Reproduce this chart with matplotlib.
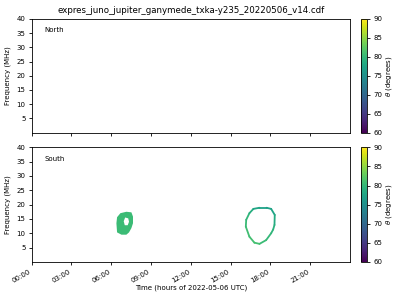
import datetime
import numpy as np
import matplotlib
matplotlib.use("Agg")
import matplotlib.pyplot as plt
import matplotlib.dates as mdates
from matplotlib.collections import LineCollection
from matplotlib.path import Path
from matplotlib.patches import PathPatch

# blob near 07:00 (South), outline in hours / MHz, with a small hole
blob_t = [7.14, 7.52, 7.64, 7.64, 7.52, 7.34, 7.14, 6.77, 6.44, 6.39, 6.44, 6.69]
blob_f = [17.5, 17.3, 15.8, 13.5, 11.8, 10.3, 9.5, 9.5, 10.3, 13.5, 15.6, 17.0]
blob_theta = 80.5
hole_t = [7.05, 7.28, 7.34, 7.24, 7.02, 6.94]
hole_f = [15.5, 15.2, 14.0, 12.8, 12.8, 14.2]

# ring near 17:00 (South)
ring_t = [17.17, 17.70, 18.05, 18.32, 18.30, 18.20, 18.05, 17.67, 17.17, 16.79, 16.41, 16.14, 16.17, 16.41, 16.71, 17.17]
ring_f = [18.9, 18.9, 18.5, 16.4, 12.9, 11.3, 10.0, 7.6, 6.3, 6.7, 8.8, 12.3, 14.7, 17.0, 18.5, 18.9]
ring_theta = [77.0, 77.0, 77.5, 78.3, 79.0, 79.5, 80.0, 80.5, 81.0, 81.0, 80.8, 80.3, 79.8, 78.8, 77.6, 77.0]

plt.rcParams['font.size'] = 5

day = mdates.date2num(datetime.datetime(2022, 5, 6))
cmap = plt.get_cmap('viridis')
norm = matplotlib.colors.Normalize(60, 90)

fig = plt.figure(figsize=(4, 3), dpi=100)
ax1 = fig.add_axes([0.079, 0.558, 0.796, 0.379])
ax2 = fig.add_axes([0.079, 0.127, 0.796, 0.382])
cax1 = fig.add_axes([0.9025, 0.558, 0.016, 0.379])
cax2 = fig.add_axes([0.9025, 0.127, 0.016, 0.382])

# filled blob with hole
bt = day + np.array(blob_t) / 24
ht = day + np.array(hole_t) / 24
verts = list(zip(bt, blob_f)) + [(bt[0], blob_f[0])] + list(zip(ht[::-1], hole_f[::-1])) + [(ht[-1], hole_f[-1])]
codes = [Path.MOVETO] + [Path.LINETO] * (len(bt) - 1) + [Path.CLOSEPOLY] + \
        [Path.MOVETO] + [Path.LINETO] * (len(ht) - 1) + [Path.CLOSEPOLY]
ax2.add_patch(PathPatch(Path(verts, codes), facecolor=cmap(norm(blob_theta)), edgecolor='none'))

# ring, coloured by theta
rt = day + np.array(ring_t) / 24
pts = np.column_stack([rt, ring_f]).reshape(-1, 1, 2)
segs = np.concatenate([pts[:-1], pts[1:]], axis=1)
lc = LineCollection(segs, cmap=cmap, norm=norm, linewidths=1.3, capstyle='round')
lc.set_array(np.array(ring_theta[:-1]))
ax2.add_collection(lc)

for ax, name in [(ax1, 'North'), (ax2, 'South')]:
    ax.set_xlim(day, day + 23.99 / 24)
    ax.set_ylim(0, 40)
    ax.set_yticks([5, 10, 15, 20, 25, 30, 35, 40])
    ax.xaxis.set_major_locator(mdates.HourLocator(byhour=range(0, 24, 3)))
    ax.xaxis.set_major_formatter(mdates.DateFormatter('%H:%M'))
    ax.set_ylabel('Frequency (MHz)')
    ax.text(0.04, 0.9, name, transform=ax.transAxes, va='center')
    ax.tick_params(length=2.5, width=0.6, pad=2)
    for s in ax.spines.values():
        s.set_linewidth(0.6)

ax1.tick_params(labelbottom=False)
for lab in ax2.get_xticklabels():
    lab.set_rotation(30)
    lab.set_ha('right')
ax2.set_xlabel('Time (hours of 2022-05-06 UTC)', labelpad=1)
ax1.set_title('expres_juno_jupiter_ganymede_txka-y235_20220506_v14.cdf', fontsize=6.2, pad=4)

for cax in [cax1, cax2]:
    cb = fig.colorbar(matplotlib.cm.ScalarMappable(norm=norm, cmap=cmap), cax=cax)
    cb.set_ticks([60, 65, 70, 75, 80, 85, 90])
    cb.set_label(r'$\theta$ (degrees)', labelpad=1)
    cb.ax.tick_params(length=2.5, width=0.6, pad=2)
    cb.outline.set_linewidth(0.6)

fig.savefig('out.png', dpi=100)
